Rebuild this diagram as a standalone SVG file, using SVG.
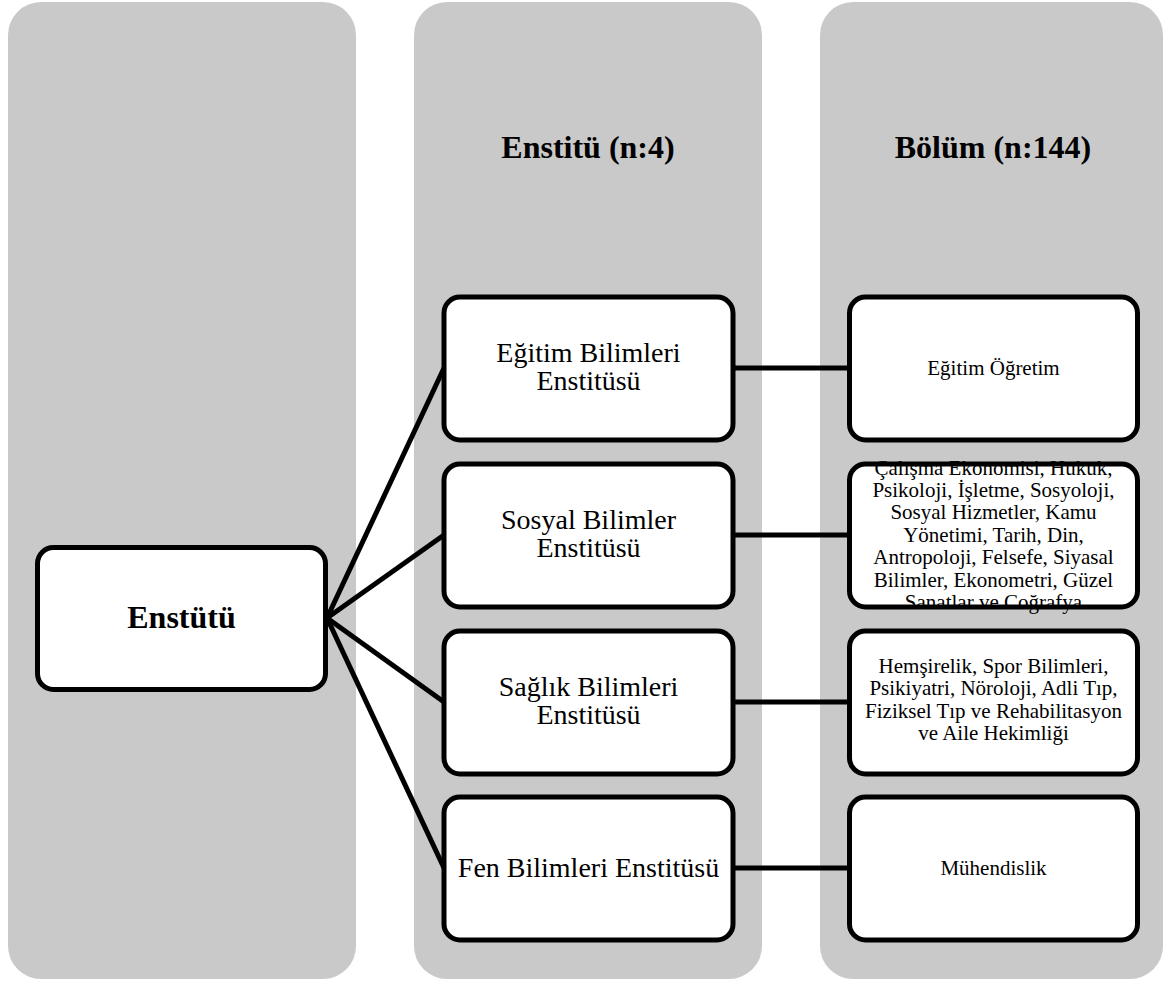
<svg xmlns="http://www.w3.org/2000/svg" width="1164" height="983" viewBox="0 0 1164 983">
<style>
.col{fill:#c9c9c9}
.box{fill:#fff}
.bs{fill:none;stroke:#000;stroke-width:5}
.ln{stroke:#000;stroke-width:5;fill:none}
text{font-family:"Liberation Serif","Times New Roman",serif;fill:#000;text-anchor:middle}
.h{font-size:32px;font-weight:bold}
.m{font-size:28px}
.s{font-size:21px}
</style>
<rect width="1164" height="983" fill="#fff"/>
<g id="columns">
<rect class="col" x="8" y="2" width="348" height="977" rx="33"/>
<rect class="col" x="414" y="2" width="348" height="977" rx="33"/>
<rect class="col" x="820" y="2" width="343" height="977" rx="33"/>
</g>
<g id="headings">
<text class="h" x="588" y="158">Enstitü (n:4)</text>
<text class="h" x="993" y="158">Bölüm (n:144)</text>
</g>
<g id="connectors">
<line class="ln" x1="327" y1="618" x2="444" y2="368"/>
<line class="ln" x1="327" y1="618" x2="444" y2="535"/>
<line class="ln" x1="327" y1="618" x2="444" y2="702"/>
<line class="ln" x1="327" y1="618" x2="444" y2="868"/>
<line class="ln" x1="733" y1="368" x2="850" y2="368"/>
<line class="ln" x1="733" y1="535" x2="850" y2="535"/>
<line class="ln" x1="733" y1="702" x2="850" y2="702"/>
<line class="ln" x1="733" y1="868" x2="850" y2="868"/>
</g>
<g id="n-enstutu">
<rect class="box" x="37.5" y="547.5" width="288" height="142" rx="16"/>
<text class="h" x="181.5" y="628">Enstütü</text>
<rect class="bs" x="37.5" y="547.5" width="288" height="142" rx="16"/>
</g>
<g id="n-egitim-bil">
<rect class="box" x="444" y="297" width="289" height="143" rx="16"/>
<text class="m" x="588.5" y="362">Eğitim Bilimleri</text>
<text class="m" x="588.5" y="390">Enstitüsü</text>
<rect class="bs" x="444" y="297" width="289" height="143" rx="16"/>
</g>
<g id="n-sosyal-bil">
<rect class="box" x="444" y="464" width="289" height="143" rx="16"/>
<text class="m" x="588.5" y="529">Sosyal Bilimler</text>
<text class="m" x="588.5" y="557">Enstitüsü</text>
<rect class="bs" x="444" y="464" width="289" height="143" rx="16"/>
</g>
<g id="n-saglik-bil">
<rect class="box" x="444" y="631" width="289" height="143" rx="16"/>
<text class="m" x="588.5" y="696">Sağlık Bilimleri</text>
<text class="m" x="588.5" y="724">Enstitüsü</text>
<rect class="bs" x="444" y="631" width="289" height="143" rx="16"/>
</g>
<g id="n-fen-bil">
<rect class="box" x="444" y="797" width="289" height="143" rx="16"/>
<text class="m" x="588.5" y="877">Fen Bilimleri Enstitüsü</text>
<rect class="bs" x="444" y="797" width="289" height="143" rx="16"/>
</g>
<g id="n-egitim-ogretim">
<rect class="box" x="849.5" y="297" width="288" height="143" rx="16"/>
<text class="s" x="993.5" y="375">Eğitim Öğretim</text>
<rect class="bs" x="849.5" y="297" width="288" height="143" rx="16"/>
</g>
<g id="n-sosyal-bolum">
<rect class="box" x="849.5" y="464" width="288" height="143" rx="16"/>
<text class="s" x="993.5" y="474.5">Çalışma Ekonomisi, Hukuk,</text>
<text class="s" x="993.5" y="496.9">Psikoloji, İşletme, Sosyoloji,</text>
<text class="s" x="993.5" y="519.3">Sosyal Hizmetler, Kamu</text>
<text class="s" x="993.5" y="541.7">Yönetimi, Tarih, Din,</text>
<text class="s" x="993.5" y="564.1">Antropoloji, Felsefe, Siyasal</text>
<text class="s" x="993.5" y="586.5">Bilimler, Ekonometri, Güzel</text>
<text class="s" x="993.5" y="608.9">Sanatlar ve Coğrafya</text>
<rect class="bs" x="849.5" y="464" width="288" height="143" rx="16"/>
</g>
<g id="n-saglik-bolum">
<rect class="box" x="849.5" y="631" width="288" height="143" rx="16"/>
<text class="s" x="993.5" y="672.5">Hemşirelik, Spor Bilimleri,</text>
<text class="s" x="993.5" y="695">Psikiyatri, Nöroloji, Adli Tıp,</text>
<text class="s" x="993.5" y="717.5">Fiziksel Tıp ve Rehabilitasyon</text>
<text class="s" x="993.5" y="740">ve Aile Hekimliği</text>
<rect class="bs" x="849.5" y="631" width="288" height="143" rx="16"/>
</g>
<g id="n-fen-bolum">
<rect class="box" x="849.5" y="797" width="288" height="143" rx="16"/>
<text class="s" x="993.5" y="875">Mühendislik</text>
<rect class="bs" x="849.5" y="797" width="288" height="143" rx="16"/>
</g>
</svg>
